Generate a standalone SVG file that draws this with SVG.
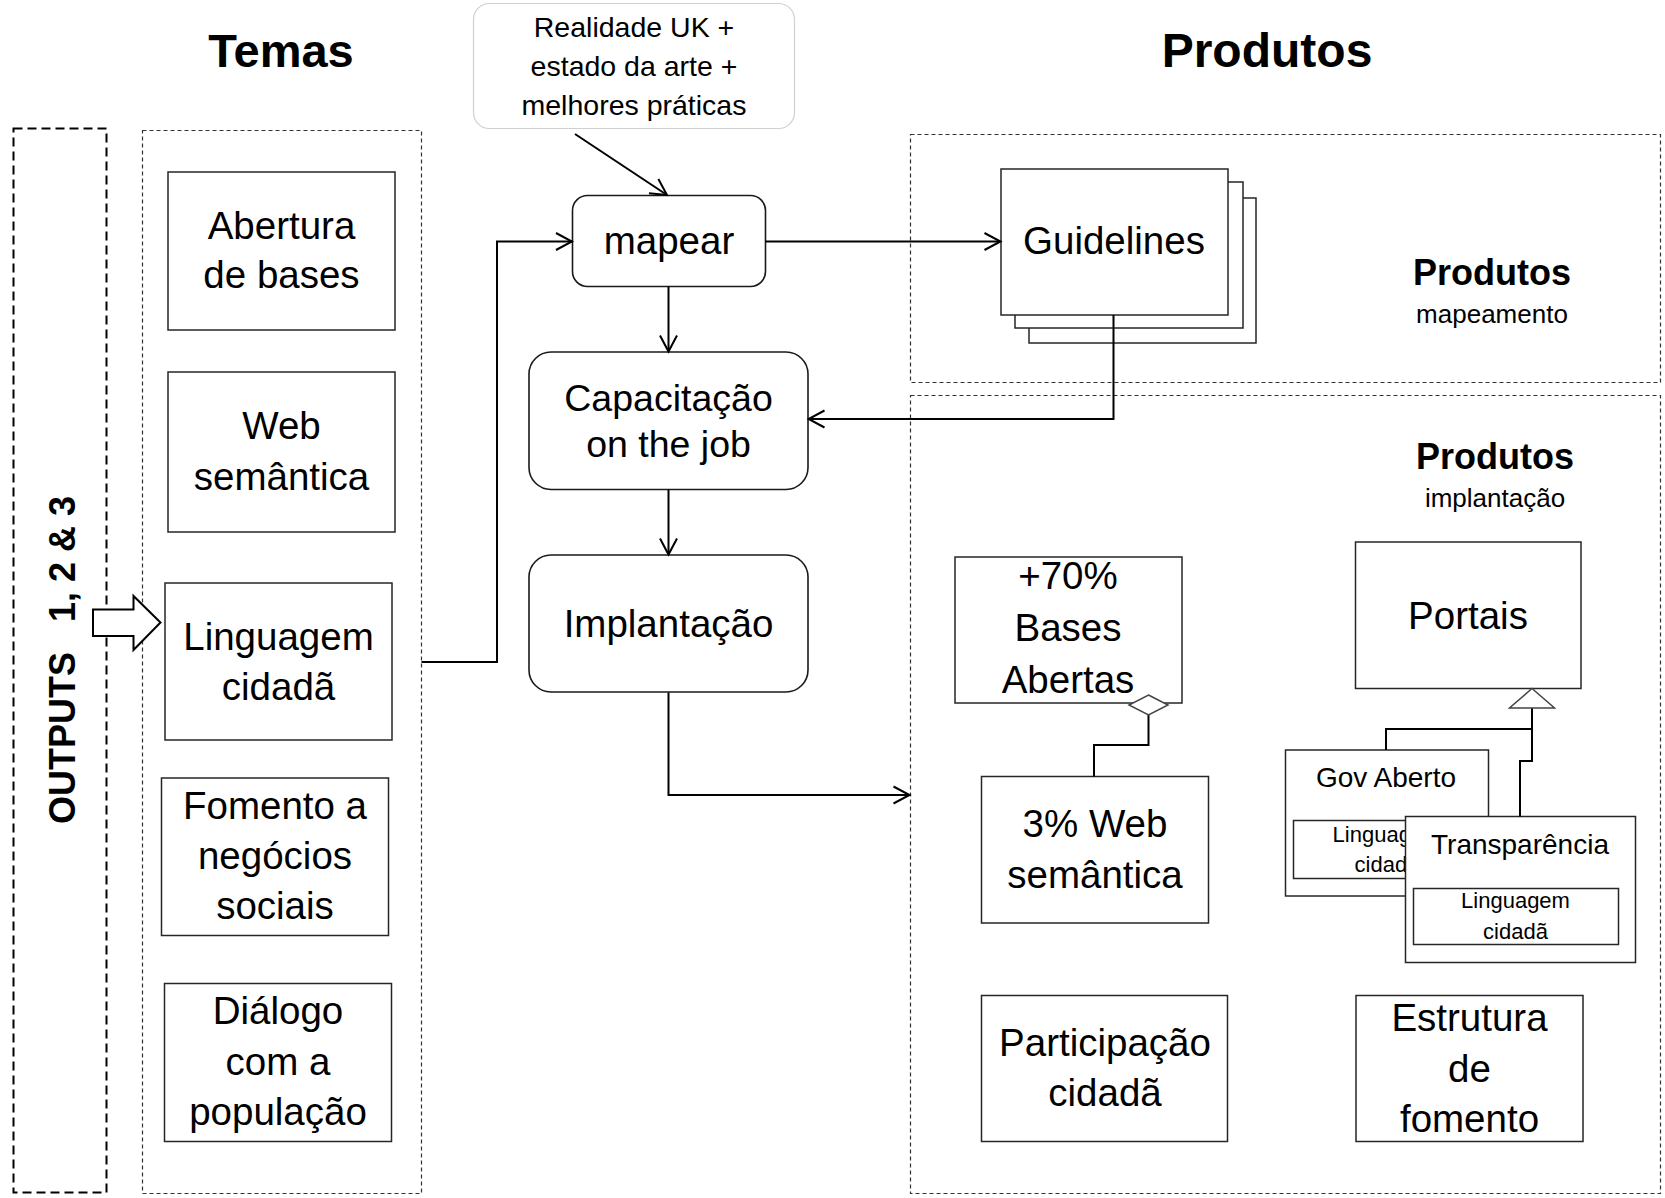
<svg xmlns="http://www.w3.org/2000/svg" width="1665" height="1198" viewBox="0 0 1665 1198">
<defs>
<style>
text{font-family:"Liberation Sans",Arial,sans-serif;fill:#000;text-anchor:middle}
.h1{font-size:47px;font-weight:bold}
.h2{font-size:36px;font-weight:bold}
.sub{font-size:26px}
.n{font-size:38.5px}
.note{font-size:28.5px}
.m{font-size:28px}
.s{font-size:22px}
.box{fill:#fff;stroke:#262626;stroke-width:1.5}
.rbox{fill:#fff;stroke:#1a1a1a;stroke-width:1.6}
.dash{fill:none;stroke:#333;stroke-width:1.2;stroke-dasharray:4 3}
.conn{fill:none;stroke:#000;stroke-width:2}
.uml{fill:#fff;stroke:#444;stroke-width:1.5}
</style>
<marker id="arr" viewBox="0 0 20 20" refX="18" refY="10" markerWidth="20" markerHeight="20" orient="auto" markerUnits="userSpaceOnUse">
<path d="M2,1.5 L18,10 L2,18.5" fill="none" stroke="#000" stroke-width="2"/>
</marker>
</defs>
<rect width="1665" height="1198" fill="#fff"/>

<g id="outputs">
<rect x="13.5" y="128.5" width="93" height="1064" fill="none" stroke="#000" stroke-width="2" stroke-dasharray="9 5"/>
<text transform="translate(75,660) rotate(-90)" style="font-size:36px;font-weight:bold;white-space:pre" xml:space="preserve">OUTPUTS   1, 2 &amp; 3</text>
</g>

<g id="temas-frame">
<rect class="dash" x="142.5" y="130.5" width="279" height="1063"/>
<text class="h1" x="281" y="67">Temas</text>
</g>

<g id="produtos-title"><text class="h1" style="font-size:48px" x="1267" y="67">Produtos</text></g>

<g id="frame-mapeamento">
<rect class="dash" x="910.5" y="134.5" width="750" height="248"/>
<text class="h2" x="1492" y="285">Produtos</text>
<text class="sub" x="1492" y="323">mapeamento</text>
</g>
<g id="frame-implantacao">
<rect class="dash" x="910.5" y="395.5" width="750" height="798"/>
<text class="h2" x="1495" y="469">Produtos</text>
<text class="sub" x="1495" y="507">implantação</text>
</g>

<g id="t-abertura"><rect class="box" x="168" y="172" width="227" height="158"/>
<text class="n" x="281.5" y="239">Abertura</text><text class="n" x="281.5" y="288">de bases</text></g>
<g id="t-web"><rect class="box" x="168" y="372" width="227" height="160"/>
<text class="n" x="281.5" y="439">Web</text><text class="n" x="281.5" y="490">semântica</text></g>
<g id="t-linguagem"><rect class="box" x="165" y="583" width="227" height="157"/>
<text class="n" x="278.5" y="650">Linguagem</text><text class="n" x="278.5" y="700">cidadã</text></g>
<g id="t-fomento"><rect class="box" x="161.5" y="778" width="227" height="157.5"/>
<text class="n" x="275" y="819">Fomento a</text><text class="n" x="275" y="869">negócios</text><text class="n" x="275" y="918.5">sociais</text></g>
<g id="t-dialogo"><rect class="box" x="164.5" y="983.5" width="227" height="158"/>
<text class="n" x="278" y="1023.5">Diálogo</text><text class="n" x="278" y="1075">com a</text><text class="n" x="278" y="1124.5">população</text></g>

<g id="note"><rect x="473.5" y="3.5" width="321" height="125" rx="16" fill="#fff" stroke="#d0d0d0" stroke-width="1.2"/>
<text class="note" x="634" y="37">Realidade UK +</text><text class="note" x="634" y="76">estado da arte +</text><text class="note" x="634" y="115">melhores práticas</text></g>

<g id="mapear"><rect class="rbox" x="572.5" y="195.5" width="193" height="91" rx="15"/>
<text class="n" x="669" y="254">mapear</text></g>
<g id="capacitacao"><rect class="rbox" x="529" y="352" width="279" height="137.5" rx="22"/>
<text class="n" style="font-size:37.5px" x="668.5" y="411">Capacitação</text><text class="n" style="font-size:37.5px" x="668.5" y="457">on the job</text></g>
<g id="implantacao"><rect class="rbox" x="529" y="555" width="279" height="137" rx="22"/>
<text class="n" x="668.5" y="637">Implantação</text></g>

<g id="guidelines">
<rect class="box" x="1029" y="198" width="227" height="145"/>
<rect class="box" x="1015" y="182" width="228" height="146"/>
<rect class="box" x="1001" y="169" width="227" height="146"/>
<text class="n" x="1114" y="254">Guidelines</text></g>

<g id="bases-abertas"><rect class="box" x="955" y="557" width="227" height="146"/>
<text class="n" x="1068" y="589">+70%</text><text class="n" x="1068" y="641">Bases</text><text class="n" x="1068" y="693">Abertas</text></g>
<g id="web-semantica"><rect class="box" x="981.5" y="776.5" width="227" height="146.5"/>
<text class="n" x="1095" y="836.5">3% Web</text><text class="n" x="1095" y="888">semântica</text></g>
<g id="portais"><rect class="box" x="1355.5" y="542" width="225.5" height="146.5"/>
<text class="n" x="1468" y="629">Portais</text></g>
<g id="gov-aberto"><rect class="box" x="1285.5" y="750" width="203" height="146"/>
<text class="m" x="1386" y="786.5">Gov Aberto</text>
<rect class="box" x="1293.5" y="820.5" width="188" height="58"/>
<text class="s" x="1387" y="841.5">Linguagem</text><text class="s" x="1387" y="872">cidadã</text></g>
<g id="transparencia"><rect class="box" x="1405.5" y="816.5" width="230" height="146"/>
<text class="m" x="1520" y="854">Transparência</text>
<rect class="box" x="1413.5" y="888.5" width="205" height="56"/>
<text class="s" x="1515.5" y="908">Linguagem</text><text class="s" x="1515.5" y="938.5">cidadã</text></g>
<g id="participacao"><rect class="box" x="981.5" y="995.5" width="246" height="146"/>
<text class="n" x="1105" y="1056">Participação</text><text class="n" x="1105" y="1105.5">cidadã</text></g>
<g id="estrutura"><rect class="box" x="1356" y="995.5" width="227" height="146"/>
<text class="n" x="1469.5" y="1031">Estrutura</text><text class="n" x="1469.5" y="1082">de</text><text class="n" x="1469.5" y="1132">fomento</text></g>

<g id="connectors">
<path class="conn" d="M575,134 L667,195" marker-end="url(#arr)"/>
<path class="conn" d="M421.5,662 H497 V241.5 H572" marker-end="url(#arr)"/>
<path class="conn" d="M765.5,241.5 H1000.5" marker-end="url(#arr)"/>
<path class="conn" d="M668.5,286.5 V351.5" marker-end="url(#arr)"/>
<path class="conn" d="M668.5,489.5 V554.5" marker-end="url(#arr)"/>
<path class="conn" d="M668.5,692.5 V795 H909.5" marker-end="url(#arr)"/>
<path class="conn" d="M1113.5,315 V419 H808.5" marker-end="url(#arr)"/>
<path class="conn" d="M1148.5,715 V745 H1094 V776.5"/>
<path class="conn" d="M1532,708 V761 H1520 V816.5"/>
<path class="conn" d="M1532,729 H1386 V750"/>
<polygon class="uml" points="1148.5,695 1168,705 1148.5,715 1129,705"/>
<polygon class="uml" points="1532,688.5 1554.5,708 1509.5,708"/>
<polygon points="93,609.5 133.5,609.5 133.5,596 160.5,622.5 133.5,650 133.5,636 93,636" fill="#fff" stroke="#000" stroke-width="2"/>
</g>
</svg>
